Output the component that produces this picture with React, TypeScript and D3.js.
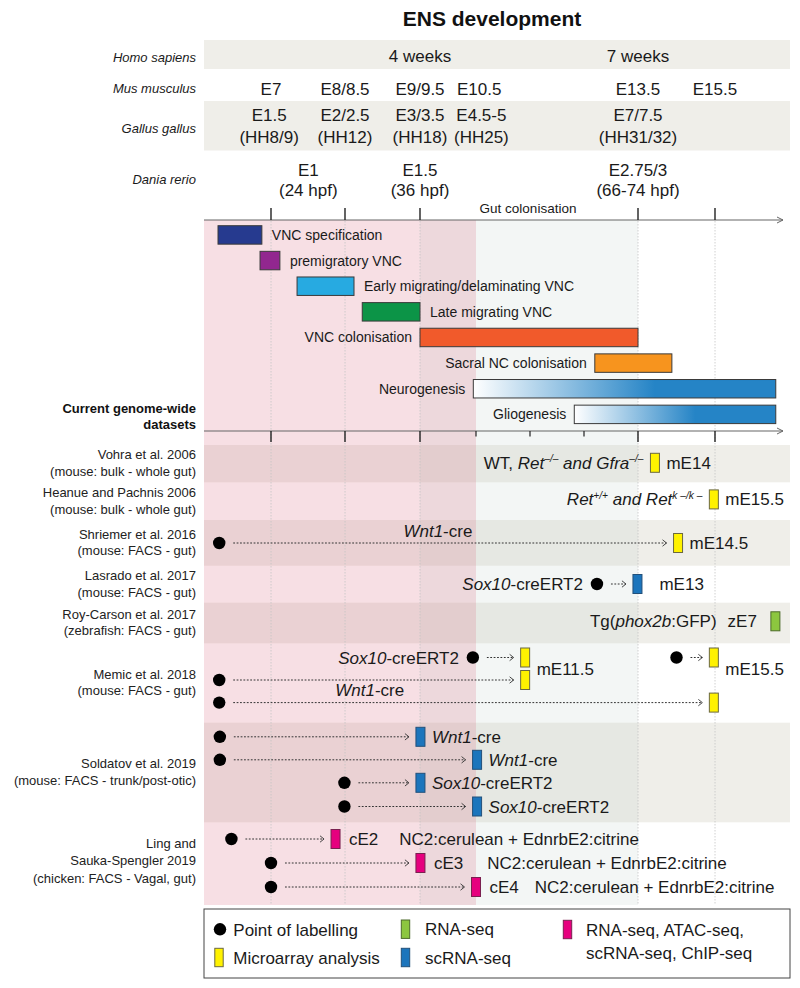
import React from "react";
import * as d3 from "d3";

// ---------------- DATA ----------------
const TITLE = "ENS development";
const SPECIES = ["Homo sapiens", "Mus musculus", "Gallus gallus", "Dania rerio"];

// stage labels, positioned on the mouse embryonic-day timeline
const HOMO_LABELS = [["4 weeks"], ["7 weeks"]];
const HOMO_AT = [9.25, 13.5];
const MUS_LABELS = [["E7"], ["E8/8.5"], ["E9/9.5"], ["E10.5"], ["E13.5"], ["E15.5"]];
const MUS_AT = [7, 8.25, 9.25, 10.56, 13.5, 15.5];
const GALLUS_LABELS = [["E1.5", "(HH8/9)"], ["E2/2.5", "(HH12)"], ["E3/3.5", "(HH18)"], ["E4.5-5", "(HH25)"], ["E7/7.5", "(HH31/32)"]];
const GALLUS_AT = [6.97, 8.25, 9.25, 10.6, 13.5];
const DANIO_LABELS = [["E1", "(24 hpf)"], ["E1.5", "(36 hpf)"], ["E2.75/3", "(66-74 hpf)"]];
const DANIO_AT = [7.63, 9.25, 13.5];

const MAJOR_TICKS = [7, 8.25, 9.25, 13.5, 15.5];
const MINOR_TICKS = [10.5, 11.5, 12.5];
const AXIS_LABEL = "Gut colonisation";
const PINK_SPAN = [5.9, 10.5];
const GRAY_SPAN = [9.25, 13.5];

const PROCESSES = [
  "VNC specification",
  "premigratory VNC",
  "Early migrating/delaminating VNC",
  "Late migrating VNC",
  "VNC colonisation",
  "Sacral NC colonisation",
  "Neurogenesis",
  "Gliogenesis",
];
const PROCESS_START = [6.13, 6.82, 7.44, 8.48, 9.25, 12.7, 10.44, 12.32];
const PROCESS_END = [6.85, 7.15, 8.37, 9.25, 13.5, 14.38, 17.08, 17.08];
const PROCESS_FILL = ["#263a8f", "#92278f", "#27aae1", "#0c9447", "#f15a2b", "#f7941e", "url(#blueGrad)", "url(#blueGrad)"];
const PROCESS_LABEL_SIDE = ["right", "right", "right", "right", "left", "left", "left", "left"];

const DATASETS_HEADER = ["Current genome-wide", "datasets"];
const DATASET_LINES = [
  ["Vohra et al. 2006", "(mouse: bulk - whole gut)"],
  ["Heanue and Pachnis 2006", "(mouse: bulk - whole gut)"],
  ["Shriemer et al. 2016", "(mouse: FACS - gut)"],
  ["Lasrado et al. 2017", "(mouse: FACS - gut)"],
  ["Roy-Carson et al. 2017", "(zebrafish: FACS - gut)"],
  ["Memic et al. 2018", "(mouse: FACS - gut)"],
  ["Soldatov et al. 2019", "(mouse: FACS - trunk/post-otic)"],
  ["Ling and", "Sauka-Spengler 2019", "(chicken: FACS - Vagal, gut)"],
];

type Part = { t: string; i?: boolean; sup?: boolean; dx?: number };

const EXP_DATASET = [0, 1, 2, 3, 4, 5, 5, 5, 5, 6, 6, 6, 6, 7, 7, 7];
const EXP_LANE = [0, 0, 0, 0, 0, 0, 0, 1, 2, 0, 1, 2, 3, 0, 1, 2];
const EXP_LABELLED: (number | null)[] = [null, null, 6.15, 12.74, null, 10.43, 14.5, 6.15, 6.15, 6.16, 6.16, 8.24, 8.24, 6.35, 7.0, 7.0];
const EXP_SAMPLED = [13.94, 15.47, 14.54, 13.49, 17.07, 11.41, 15.47, 11.41, 15.47, 9.26, 10.52, 9.26, 10.52, 8.09, 9.26, 10.5];
const EXP_TECH = ["micro", "micro", "micro", "sc", "rna", "micro", "micro", "micro", "micro", "sc", "sc", "sc", "sc", "multi", "multi", "multi"];

const WNT1: Part[] = [{ t: "Wnt1", i: true }, { t: "-cre" }];
const SOX10: Part[] = [{ t: "Sox10", i: true }, { t: "-creERT2" }];
const NC2 = "NC2:cerulean + EdnrbE2:citrine";

const EXP_PREFIX: (Part[] | null)[] = [
  [{ t: "WT, " }, { t: "Ret", i: true }, { t: "–/–", sup: true, i: true }, { t: " and Gfra", i: true }, { t: "–/–", sup: true, i: true }],
  [{ t: "Ret", i: true }, { t: "+/+", sup: true, i: true }, { t: " and Ret", i: true }, { t: "k –/k –", sup: true, i: true }],
  null,
  SOX10,
  [{ t: "Tg(" }, { t: "phox2b", i: true }, { t: ":GFP)" }, { t: "zE7", dx: 11 }],
  SOX10,
  null, null, null, null, null, null, null, null, null, null,
];
const EXP_SUFFIX: (Part[] | null)[] = [
  [{ t: "mE14" }],
  [{ t: "mE15.5" }],
  [{ t: "mE14.5" }],
  [{ t: "mE13" }],
  null, null, null, null, null,
  WNT1, WNT1, SOX10, SOX10,
  [{ t: "cE2" }, { t: NC2, dx: 21 }],
  [{ t: "cE3" }, { t: NC2, dx: 24 }],
  [{ t: "cE4" }, { t: NC2, dx: 16 }],
];
const EXP_ABOVE: (Part[] | null)[] = [null, null, WNT1, null, null, null, null, null, WNT1, null, null, null, null, null, null, null];
const EXP_ABOVE_AT: (number | null)[] = [null, null, 9.65, null, null, null, null, null, 8.58, null, null, null, null, null, null, null];

const FREE_DATASET = [5, 5];
const FREE_LANE = [0.5, 0.5];
const FREE_AFTER = [11.41, 15.47];
const FREE_TEXT = ["mE11.5", "mE15.5"];

const LEGEND_TECH = ["micro", "rna", "sc", "multi"];
const LEGEND_TEXT = [["Microarray analysis"], ["RNA-seq"], ["scRNA-seq"], ["RNA-seq, ATAC-seq,", "scRNA-seq, ChIP-seq"]];
const LEGEND_DOT_TEXT = "Point of labelling";

// ---------------- STYLE / LAYOUT ----------------
const FONT = "'Liberation Sans', Arial, Helvetica, sans-serif";
const TIME_KNOTS = [5.9, 7, 8.25, 9.25, 10.5, 13.5, 15.5, 17.45];
const TIME_PX = [204, 271, 345, 420, 476, 638, 715, 790];
const RIGHT = 790;
const AXIS_END = 783;
const TOP_AXIS_Y = 220;
const BOT_AXIS_Y = 431;
const REGION_BOTTOM = 905;
const ROW_TOPS = [445, 482.3, 520, 565.7, 602.7, 643.3, 722.7, 822.3, 905];
const LANE_Y = [[462.8], [499.4], [543], [584], [621.3], [657.5, 680, 702.6], [736.8, 759.8, 782.8, 806.5], [839, 863, 887]];
const TECH_FILL: Record<string, string> = { micro: "#fff200", rna: "#8cc63f", sc: "#1c75bc", multi: "#e6007e" };
const TECH_STROKE: Record<string, string> = { micro: "#6b6840", rna: "#4d6b2a", sc: "#22507a", multi: "#7a2050" };
const BAND = "#efeee9";
const MARK_W = 9;
const MARK_H = 19;

function Rich({ parts, x, y, anchor = "start", size = 17, fill = "#1a1a1a" }: { parts: Part[]; x: number; y: number; anchor?: string; size?: number; fill?: string }) {
  let raised = false;
  const spans = parts.map((p, k) => {
    let dy = 0;
    if (p.sup && !raised) { dy = -6.5; raised = true; }
    else if (!p.sup && raised) { dy = 6.5; raised = false; }
    return (
      <tspan key={k} dy={dy || undefined} dx={p.dx} fontStyle={p.i ? "italic" : "normal"} fontSize={p.sup ? size * 0.6 : size}>
        {p.t}
      </tspan>
    );
  });
  return (
    <text x={x} y={y} textAnchor={anchor as any} fontSize={size} fill={fill} style={{ whiteSpace: "pre" }}>
      {spans}
    </text>
  );
}

export default function App() {
  const x = d3.scaleLinear().domain(TIME_KNOTS).range(TIME_PX);
  const yProc = d3.scaleBand<string>().domain(PROCESSES).range([225.7, 423.6]).paddingInner(0.28).paddingOuter(0);
  const laneY = (d: number, l: number) => {
    const ys = LANE_Y[d];
    if (ys.length === 1) return ys[0];
    return d3.scaleLinear().domain(d3.range(ys.length)).range(ys)(l);
  };

  const stageText = (labels: string[][], at: number[], y0: number, dy: number, key: string) =>
    labels.map((lines, k) => (
      <text key={key + k} x={x(at[k])} y={y0} textAnchor="middle" fontSize={17} fill="#1a1a1a">
        {lines.map((ln, j) => (
          <tspan key={j} x={x(at[k])} dy={j === 0 ? 0 : dy}>{ln}</tspan>
        ))}
      </text>
    ));

  const speciesY = [61.5, 93, 132.5, 183.5];

  const arrow = (x1: number, x2: number, y: number, key: string) => (
    <g key={key}>
      <line x1={x1} x2={x2} y1={y} y2={y} stroke="#333" strokeWidth={1} strokeDasharray="1.8,1.6" />
      <path d={`M${x2 - 4},${y - 3.2} L${x2},${y} L${x2 - 4},${y + 3.2}`} fill="none" stroke="#333" strokeWidth={0.9} />
    </g>
  );

  return (
    <svg width={800} height={988} style={{ position: "absolute", left: 0, top: 0, background: "#fff" }} fontFamily={FONT}>
      <defs>
        <linearGradient id="blueGrad" x1="0" x2="1" y1="0" y2="0">
          <stop offset="0" stopColor="#ffffff" />
          <stop offset="0.6" stopColor="#2584c6" />
          <stop offset="1" stopColor="#2584c6" />
        </linearGradient>
      </defs>
      <rect width={800} height={988} fill="#fff" />

      {/* title */}
      <text x={492} y={26} textAnchor="middle" fontSize={21} fontWeight="bold" fill="#111">{TITLE}</text>

      {/* header bands */}
      <rect x={x(TIME_KNOTS[0])} y={40} width={RIGHT - x(TIME_KNOTS[0])} height={29} fill={BAND} />
      <rect x={x(TIME_KNOTS[0])} y={101} width={RIGHT - x(TIME_KNOTS[0])} height={49.5} fill={BAND} />

      {SPECIES.map((s, k) => (
        <text key={s} x={196} y={speciesY[k]} textAnchor="end" fontSize={13} fontStyle="italic" fill="#1a1a1a">{s}</text>
      ))}
      {stageText(HOMO_LABELS, HOMO_AT, 62, 0, "h")}
      {stageText(MUS_LABELS, MUS_AT, 95, 0, "m")}
      {stageText(GALLUS_LABELS, GALLUS_AT, 121, 21.5, "g")}
      {stageText(DANIO_LABELS, DANIO_AT, 175.5, 20.5, "d")}

      {/* dataset row bands */}
      {DATASET_LINES.map((_, k) =>
        k % 2 === 0 ? (
          <rect key={"band" + k} x={x(TIME_KNOTS[0])} y={ROW_TOPS[k]} width={RIGHT - x(TIME_KNOTS[0])} height={ROW_TOPS[k + 1] - ROW_TOPS[k]} fill={BAND} />
        ) : null
      )}

      {/* shaded periods */}
      <rect x={x(GRAY_SPAN[0])} y={TOP_AXIS_Y} width={x(GRAY_SPAN[1]) - x(GRAY_SPAN[0])} height={REGION_BOTTOM - TOP_AXIS_Y} fill="rgb(190,205,200)" fillOpacity={0.18} />
      <rect x={x(PINK_SPAN[0])} y={TOP_AXIS_Y} width={x(PINK_SPAN[1]) - x(PINK_SPAN[0])} height={REGION_BOTTOM - TOP_AXIS_Y} fill="rgb(220,110,130)" fillOpacity={0.22} />

      {/* gridlines */}
      {MAJOR_TICKS.map((t) => (
        <line key={"grid" + t} x1={x(t)} x2={x(t)} y1={TOP_AXIS_Y + 1} y2={REGION_BOTTOM} stroke="#c4c4c4" strokeWidth={0.8} strokeDasharray="1.5,1.5" />
      ))}

      {/* top axis */}
      <line x1={x(TIME_KNOTS[0])} x2={AXIS_END} y1={TOP_AXIS_Y} y2={TOP_AXIS_Y} stroke="#666" strokeWidth={1.2} />
      <path d={`M${AXIS_END - 6},${TOP_AXIS_Y - 3} L${AXIS_END},${TOP_AXIS_Y} L${AXIS_END - 6},${TOP_AXIS_Y + 3}`} fill="none" stroke="#666" strokeWidth={1} />
      {MAJOR_TICKS.map((t) => (
        <line key={"tt" + t} x1={x(t)} x2={x(t)} y1={TOP_AXIS_Y - 12} y2={TOP_AXIS_Y} stroke="#222" strokeWidth={1.4} />
      ))}
      <text x={528} y={213} textAnchor="middle" fontSize={13.5} fill="#1a1a1a">{AXIS_LABEL}</text>

      {/* processes */}
      {PROCESSES.map((p, k) => {
        const x0 = x(PROCESS_START[k]);
        const x1 = x(PROCESS_END[k]);
        const y0 = yProc(p)!;
        const bw = yProc.bandwidth();
        const right = PROCESS_LABEL_SIDE[k] === "right";
        return (
          <g key={p}>
            <rect x={x0} y={y0} width={x1 - x0} height={bw} fill={PROCESS_FILL[k]} stroke="#3a3a3a" strokeWidth={1} />
            <text x={right ? x1 + 10 : x0 - 8} y={y0 + bw / 2 + 5} textAnchor={right ? "start" : "end"} fontSize={14} fill="#1a1a1a">{p}</text>
          </g>
        );
      })}

      {/* bottom axis */}
      <line x1={x(TIME_KNOTS[0])} x2={AXIS_END} y1={BOT_AXIS_Y} y2={BOT_AXIS_Y} stroke="#666" strokeWidth={1.2} />
      <path d={`M${AXIS_END - 6},${BOT_AXIS_Y - 3} L${AXIS_END},${BOT_AXIS_Y} L${AXIS_END - 6},${BOT_AXIS_Y + 3}`} fill="none" stroke="#666" strokeWidth={1} />
      {MAJOR_TICKS.map((t) => (
        <line key={"bt" + t} x1={x(t)} x2={x(t)} y1={BOT_AXIS_Y} y2={BOT_AXIS_Y + 11} stroke="#222" strokeWidth={1.4} />
      ))}
      {MINOR_TICKS.map((t) => (
        <line key={"bm" + t} x1={x(t)} x2={x(t)} y1={BOT_AXIS_Y} y2={BOT_AXIS_Y + 5.5} stroke="#222" strokeWidth={1.2} />
      ))}
      <text x={196} y={413} textAnchor="end" fontSize={13} fontWeight="bold" fill="#111">
        <tspan x={196}>{DATASETS_HEADER[0]}</tspan>
        <tspan x={196} dy={16}>{DATASETS_HEADER[1]}</tspan>
      </text>

      {/* dataset labels */}
      {DATASET_LINES.map((lines, k) => {
        const sp = lines.length > 2 ? 17.5 : 16.7;
        const c = (ROW_TOPS[k] + ROW_TOPS[k + 1]) / 2 - (lines.length > 2 ? 3 : 0.5);
        const first = c - ((lines.length - 1) * sp) / 2 + 4.5;
        return (
          <text key={"dl" + k} x={196} y={first} textAnchor="end" fontSize={13} fill="#222">
            {lines.map((ln, j) => (
              <tspan key={j} x={196} dy={j === 0 ? 0 : sp}>{ln}</tspan>
            ))}
          </text>
        );
      })}

      {/* experiments */}
      {EXP_SAMPLED.map((s, k) => {
        const y = laneY(EXP_DATASET[k], EXP_LANE[k]);
        const xs = x(s);
        const lab = EXP_LABELLED[k];
        const tech = EXP_TECH[k];
        const prefix = EXP_PREFIX[k];
        const suffix = EXP_SUFFIX[k];
        const above = EXP_ABOVE[k];
        const sufGap = k === 3 ? 17.5 : EXP_DATASET[k] === 7 ? 9 : 7;
        const preGap = k === 4 ? 14 : 7;
        return (
          <g key={"e" + k}>
            {lab != null && arrow(x(lab) + 14, xs - MARK_W / 2 - 7, y, "a" + k)}
            {lab != null && <circle cx={x(lab)} cy={y} r={6.2} fill="#000" />}
            <rect x={xs - MARK_W / 2} y={y - MARK_H / 2} width={MARK_W} height={MARK_H} fill={TECH_FILL[tech]} stroke={TECH_STROKE[tech]} strokeWidth={1} />
            {prefix && (
              <Rich parts={prefix} x={lab != null ? x(lab) - 14 : xs - MARK_W / 2 - preGap} y={y + 6} anchor="end" />
            )}
            {suffix && <Rich parts={suffix} x={xs + MARK_W / 2 + sufGap} y={y + 6} />}
            {above && <Rich parts={above} x={x(EXP_ABOVE_AT[k]!)} y={y - 6.5} anchor="middle" />}
          </g>
        );
      })}
      {FREE_TEXT.map((t, k) => (
        <text key={"f" + k} x={x(FREE_AFTER[k]) + MARK_W / 2 + 7} y={laneY(FREE_DATASET[k], FREE_LANE[k]) + 6} fontSize={17} fill="#1a1a1a">{t}</text>
      ))}

      {/* legend */}
      <rect x={204} y={909} width={586} height={69} fill="#fff" stroke="#444" strokeWidth={1} />
      <circle cx={220} cy={929.3} r={6.2} fill="#000" />
      <text x={233.3} y={935.5} fontSize={17} fill="#1a1a1a">{LEGEND_DOT_TEXT}</text>
      {LEGEND_TECH.map((t, k) => {
        const pos = [[219, 957.5], [405.5, 929.2], [405.5, 957.5], [567.5, 929.5]][k];
        const tx = [233.3, 425, 425, 586][k];
        return (
          <g key={"lg" + t}>
            <rect x={pos[0] - 4.2} y={pos[1] - 9.2} width={8.4} height={18.4} fill={TECH_FILL[t]} stroke={TECH_STROKE[t]} strokeWidth={1} />
            <text x={tx} y={pos[1] + 6} fontSize={17} fill="#1a1a1a">
              {LEGEND_TEXT[k].map((ln, j) => (
                <tspan key={j} x={tx} dy={j === 0 ? 0 : 23.4}>{ln}</tspan>
              ))}
            </text>
          </g>
        );
      })}
    </svg>
  );
}
